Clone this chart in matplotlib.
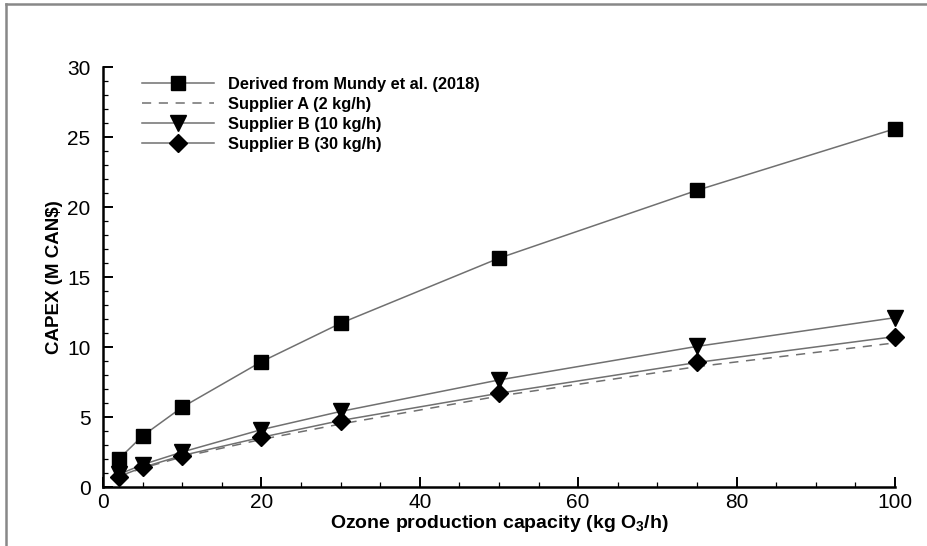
import matplotlib.pyplot as plt
from matplotlib.lines import Line2D
from matplotlib.ticker import MultipleLocator

plt.rcParams['font.family'] = ['Liberation Sans', 'DejaVu Sans']
plt.rcParams['mathtext.default'] = 'regular'

capacity = [2, 5, 10, 20, 30, 50, 75, 100]
mundy = [2.0, 3.65, 5.7, 8.95, 11.7, 16.35, 21.2, 25.6]
supplier_a = [0.75, 1.35, 2.15, 3.4, 4.5, 6.5, 8.6, 10.3]
supplier_b10 = [0.9, 1.6, 2.5, 4.1, 5.4, 7.65, 10.05, 12.1]
supplier_b30 = [0.75, 1.4, 2.25, 3.55, 4.75, 6.7, 8.9, 10.75]

LINE = '#707070'

fig = plt.figure(figsize=(9.27, 5.46), dpi=100)
ax = fig.add_axes([0.111, 0.108, 0.8545, 0.769])

ax.plot(capacity, mundy, color=LINE, lw=1.1, marker='s', ms=10,
        mfc='black', mec='black', clip_on=False,
        label='Derived from Mundy et al. (2018)')
ax.plot(capacity, supplier_a, color=LINE, lw=1.1, ls=(0, (6, 5)),
        clip_on=False, label='Supplier A (2 kg/h)')
ax.plot(capacity, supplier_b10, color=LINE, lw=1.1, marker='v', ms=11,
        mfc='black', mec='black', clip_on=False, label='Supplier B (10 kg/h)')
ax.plot(capacity, supplier_b30, color=LINE, lw=1.1, marker='D', ms=9.5,
        mfc='black', mec='black', clip_on=False, label='Supplier B (30 kg/h)')

ax.set_xlim(0, 100)
ax.set_ylim(0, 30)
ax.xaxis.set_major_locator(MultipleLocator(20))
ax.xaxis.set_minor_locator(MultipleLocator(5))
ax.yaxis.set_major_locator(MultipleLocator(5))
ax.yaxis.set_minor_locator(MultipleLocator(1))
ax.tick_params(which='major', direction='in', length=7.5, width=1.4,
               labelsize=15)
ax.tick_params(axis='x', which='major', pad=4)
ax.tick_params(axis='y', which='major', pad=9)
ax.tick_params(which='minor', direction='in', length=3.8, width=0.9)

for side in ('top', 'right'):
    ax.spines[side].set_visible(False)
for side in ('left', 'bottom'):
    ax.spines[side].set_linewidth(1.8)

ax.set_xlabel('Ozone production capacity (kg O$_3$/h)', fontsize=14,
              fontweight='bold', labelpad=1)
ax.set_ylabel('CAPEX (M CAN\\$)', fontsize=13.5, fontweight='bold', labelpad=3)

leg = ax.legend(loc='upper left', bbox_to_anchor=(0.037, 1.0), frameon=False,
                fontsize=11.8, handlelength=4.4, handletextpad=0.85,
                labelspacing=0.3, borderaxespad=0.2)
for text in leg.get_texts():
    text.set_fontweight('bold')

# outer frame of the original picture
fig.add_artist(Line2D([0.007, 0.007], [0.0, 0.993], color='#888888', lw=1.8,
                      transform=fig.transFigure))
fig.add_artist(Line2D([0.007, 1.0], [0.993, 0.993], color='#888888', lw=1.8,
                      transform=fig.transFigure))

fig.savefig('out.png', dpi=100)
